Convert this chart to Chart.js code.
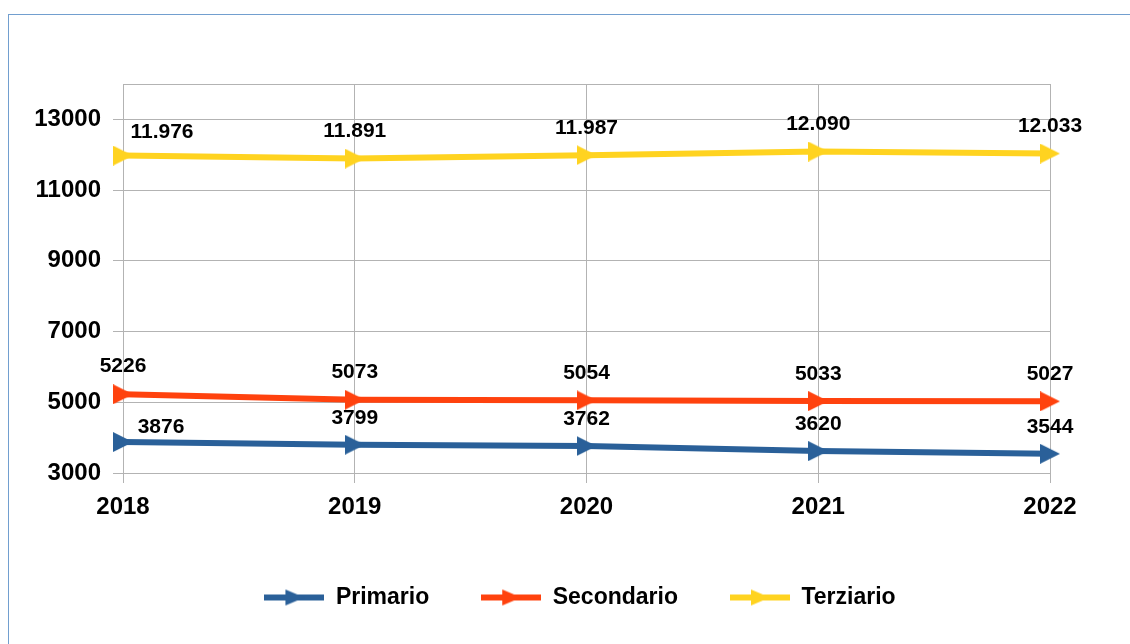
<!DOCTYPE html>
<html><head><meta charset="utf-8">
<script src="https://cdn.jsdelivr.net/npm/chart.js@4"></script>
<style>
html,body{margin:0;padding:0;background:#fff;overflow:hidden;width:1130px;height:644px;}
#frame{position:absolute;left:8px;top:14px;width:1200px;height:700px;border:1px solid #729fcf;box-sizing:border-box;}
#wrap{position:absolute;left:0;top:0;width:1130px;height:644px;}
</style></head><body>
<div id="frame"></div>
<div id="wrap"><canvas id="c" width="1130" height="644"></canvas></div>
<script>
const categories = ['2018', '2019', '2020', '2021', '2022'];
const primario = [3876, 3799, 3762, 3620, 3544];
const secondario = [5226, 5073, 5054, 5033, 5027];
const terziario = [11976, 11891, 11987, 12090, 12033];
const seriesNames = ['Primario', 'Secondario', 'Terziario'];
const seriesColors = ['#2a6099', '#ff420e', '#ffd320'];
const yTicks = [3000, 5000, 7000, 9000, 11000, 13000];
const yMin = 3000, yMax = 14000;

const FONT = '"Liberation Sans", Arial, sans-serif';

function markerCanvas(color) {
  const c = document.createElement('canvas');
  c.width = 20; c.height = 20;
  const g = c.getContext('2d');
  g.fillStyle = color;
  g.beginPath(); g.moveTo(0, 0); g.lineTo(20, 10); g.lineTo(0, 20); g.closePath(); g.fill();
  return c;
}
function legendCanvas(color) {
  const c = document.createElement('canvas');
  c.width = 60; c.height = 20;
  const g = c.getContext('2d');
  g.fillStyle = color;
  g.fillRect(0, 7, 60, 6);
  g.beginPath(); g.moveTo(21, 2); g.lineTo(40, 10); g.lineTo(21, 18); g.closePath(); g.fill();
  return c;
}
function fmtDot(v) {
  return String(v).replace(/\B(?=(\d{3})+(?!\d))/g, '.');
}

const seriesData = [primario, secondario, terziario];
const dotFormat = [false, false, true];

const datasets = seriesNames.map((name, i) => ({
  label: name,
  data: seriesData[i],
  borderColor: seriesColors[i],
  backgroundColor: seriesColors[i],
  borderWidth: 6,
  tension: 0,
  pointStyle: markerCanvas(seriesColors[i]),
  pointRadius: 10,
  pointHoverRadius: 10,
  clip: false,
  dotThousands: dotFormat[i]
}));

const valueLabels = {
  id: 'valueLabels',
  afterDatasetsDraw(chart, args, opts) {
    const ctx = chart.ctx;
    ctx.save();
    ctx.font = 'bold 21px ' + FONT;
    ctx.fillStyle = '#000';
    ctx.textAlign = 'center';
    ctx.textBaseline = 'middle';
    chart.data.datasets.forEach((ds, di) => {
      const meta = chart.getDatasetMeta(di);
      meta.data.forEach((pt, i) => {
        const v = ds.data[i];
        const txt = ds.dotThousands ? fmtDot(v) : String(v);
        let dx = 0, dy = -27;
        if (i === 0 && opts.firstOffsets && opts.firstOffsets[di]) {
          dx = opts.firstOffsets[di][0]; dy = opts.firstOffsets[di][1];
        }
        ctx.fillText(txt, pt.x + dx, pt.y + dy);
      });
    });
    ctx.restore();
  }
};

const legendShift = {
  id: 'legendShift',
  afterLayout(chart, args, opts) {
    if (chart.legend) {
      chart.legend.left += opts.dx;
      chart.legend.right += opts.dx;
    }
  }
};

const GRID = '#b3b3b3';

new Chart(document.getElementById('c'), {
  type: 'line',
  data: { labels: categories, datasets },
  plugins: [valueLabels, legendShift],
  options: {
    responsive: false,
    animation: false,
    devicePixelRatio: 1,
    layout: { padding: { top: 84, right: 80, bottom: 25, left: 0 } },
    plugins: {
      tooltip: { enabled: false },
      valueLabels: { firstOffsets: [[38, -15], [0, -28], [39, -23]] },
      legendShift: { dx: 55 },
      legend: {
        position: 'bottom',
        labels: {
          usePointStyle: true,
          pointStyleWidth: 60,
          boxHeight: 20,
          padding: 52,
          color: '#000',
          font: { family: FONT, size: 23, weight: 'bold' },
          generateLabels: (chart) => chart.data.datasets.map((ds, i) => ({
            text: ds.label,
            pointStyle: legendCanvas(seriesColors[i]),
            fillStyle: seriesColors[i],
            strokeStyle: seriesColors[i],
            lineWidth: 0,
            datasetIndex: i,
            hidden: false
          }))
        }
      }
    },
    scales: {
      x: {
        offset: false,
        afterFit: (s) => { s.height = 61; },
        grid: { color: GRID, lineWidth: 1, tickLength: 10, offset: false, tickColor: GRID },
        border: { color: GRID, width: 1 },
        ticks: { color: '#000', padding: 10, maxRotation: 0, font: { family: FONT, size: 24, weight: 'bold' } }
      },
      y: {
        min: yMin, max: yMax,
        afterFit: (s) => { s.width = 123; },
        afterBuildTicks: (s) => { s.ticks = yTicks.concat([yMax]).map(v => ({ value: v })); },
        grid: {
          color: GRID, lineWidth: 1, tickLength: 10,
          tickColor: (c) => (c.tick && c.tick.value === yMax) ? 'rgba(0,0,0,0)' : GRID
        },
        border: { color: GRID, width: 1 },
        ticks: {
          color: '#000', padding: 12,
          font: { family: FONT, size: 24, weight: 'bold' },
          callback: (v) => v === yMax ? '' : String(v)
        }
      }
    }
  }
});
</script>
</body></html>
